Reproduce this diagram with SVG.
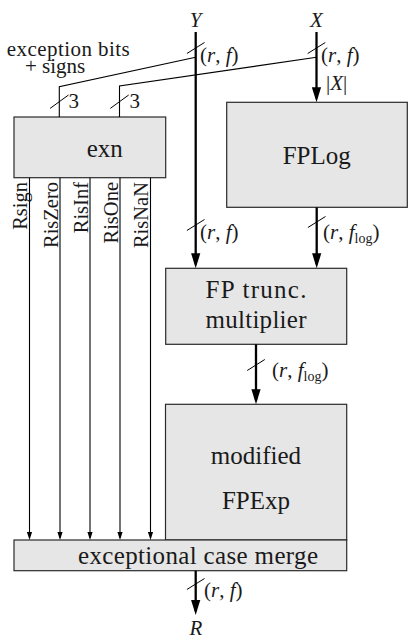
<svg xmlns="http://www.w3.org/2000/svg" width="409" height="641" viewBox="0 0 409 641">
<style>
text{font-family:"Liberation Serif","DejaVu Serif","Times New Roman",serif;fill:#1a1a1a}
.box{fill:#e6e6e6;stroke:#2a2a2a;stroke-width:1.2}
.bl{font-size:25px;text-anchor:middle}
.lb{font-size:21px}
.rl{font-size:20.5px;text-anchor:end}
.thick{stroke:#000;stroke-width:2.3;fill:none}
.thin{stroke:#000;stroke-width:1.1;fill:none}
.sl{stroke:#000;stroke-width:1}
.it{font-style:italic}
.sub{font-size:14px}
</style>
<defs>
<marker id="big" markerUnits="userSpaceOnUse" viewBox="0 -5 16 10" markerWidth="16" markerHeight="10" refX="11" refY="0" orient="auto">
<path d="M0,-4.6 L15,0 L0,4.6 z" fill="#000"/>
</marker>
<marker id="small" markerUnits="userSpaceOnUse" viewBox="0 -3 9 6" markerWidth="9" markerHeight="6" refX="6" refY="0" orient="auto">
<path d="M0,-2.6 L8,0 L0,2.6 z" fill="#000"/>
</marker>
</defs>

<g id="exn">
<rect class="box" x="14" y="117" width="151.7" height="60.7"/>
<text class="bl" x="104.7" y="156.7" font-family="Liberation Serif, serif">exn</text>
</g>
<g id="fplog">
<rect class="box" x="226.7" y="102.3" width="180.6" height="105"/>
<text class="bl" x="316.7" y="164" font-family="Liberation Serif, serif">FPLog</text>
</g>
<g id="mult">
<rect class="box" x="165.7" y="268.3" width="181" height="76"/>
<text class="bl" x="256" y="298.3" textLength="101" lengthAdjust="spacing" font-family="Liberation Serif, serif">FP trunc.</text>
<text class="bl" x="256" y="328.3" textLength="101" lengthAdjust="spacing" font-family="Liberation Serif, serif">multiplier</text>
</g>
<g id="fpexp">
<rect class="box" x="165.5" y="404.3" width="181.2" height="135.7"/>
<text class="bl" x="256" y="464.3" font-family="Liberation Serif, serif">modified</text>
<text class="bl" x="256" y="509.3" font-family="Liberation Serif, serif">FPExp</text>
</g>
<g id="merge">
<rect class="box" x="14" y="540" width="332.7" height="30.7"/>
<text class="bl" x="198" y="564.3" textLength="240" lengthAdjust="spacing" font-family="Liberation Serif, serif">exceptional case merge</text>
</g>

<g id="connectors">
<line class="thick" x1="316.5" y1="32" x2="316.5" y2="98.3" marker-end="url(#big)"/>
<line class="thick" x1="195.7" y1="32" x2="195.7" y2="264.3" marker-end="url(#big)"/>
<line class="thick" x1="316.7" y1="207.3" x2="316.7" y2="264.3" marker-end="url(#big)"/>
<line class="thick" x1="256" y1="344.3" x2="256" y2="400.3" marker-end="url(#big)"/>
<line class="thick" x1="195.7" y1="570.7" x2="195.7" y2="611" marker-end="url(#big)"/>
<polyline class="thin" points="195.7,57.3 59.3,86.7 59.3,117"/>
<polyline class="thin" points="316.5,57.3 119.5,86 119.5,117"/>
<line class="thin" x1="29.5" y1="177.7" x2="29.5" y2="538" marker-end="url(#small)"/>
<line class="thin" x1="60" y1="177.7" x2="60" y2="538" marker-end="url(#small)"/>
<line class="thin" x1="90" y1="177.7" x2="90" y2="538" marker-end="url(#small)"/>
<line class="thin" x1="120" y1="177.7" x2="120" y2="538" marker-end="url(#small)"/>
<line class="thin" x1="150.5" y1="177.7" x2="150.5" y2="538" marker-end="url(#small)"/>
<line class="sl" x1="186.9" y1="53.5" x2="204.5" y2="42.5"/>
<line class="sl" x1="307.7" y1="53.5" x2="325.3" y2="42.5"/>
<line class="sl" x1="186.9" y1="230.5" x2="204.5" y2="219.5"/>
<line class="sl" x1="307.9" y1="227.5" x2="325.5" y2="216.5"/>
<line class="sl" x1="247.2" y1="370.5" x2="264.8" y2="359.5"/>
<line class="sl" x1="186.9" y1="589.5" x2="204.5" y2="578.5"/>
<line class="sl" x1="50.1" y1="108.4" x2="68.5" y2="95"/>
<line class="sl" x1="110.3" y1="108.4" x2="128.7" y2="95"/>
</g>

<g id="labels" font-family="Liberation Serif, serif">
<text class="lb it" x="195.7" y="26.7" text-anchor="middle" font-size="22">Y</text>
<text class="lb it" x="316.5" y="26.7" text-anchor="middle" font-size="22">X</text>
<text class="lb" x="200" y="62">(<tspan class="it">r</tspan>, <tspan class="it">f</tspan>)</text>
<text class="lb" x="321" y="62">(<tspan class="it">r</tspan>, <tspan class="it">f</tspan>)</text>
<text class="lb" x="326" y="89.5">|<tspan class="it">X</tspan>|</text>
<text class="lb" x="200" y="239">(<tspan class="it">r</tspan>, <tspan class="it">f</tspan>)</text>
<text class="lb" x="323" y="239">(<tspan class="it">r</tspan>, <tspan class="it">f</tspan><tspan class="sub" dy="4">log</tspan><tspan dy="-4">)</tspan></text>
<text class="lb" x="272" y="377">(<tspan class="it">r</tspan>, <tspan class="it">f</tspan><tspan class="sub" dy="4">log</tspan><tspan dy="-4">)</tspan></text>
<text class="lb" x="204" y="597">(<tspan class="it">r</tspan>, <tspan class="it">f</tspan>)</text>
<text class="lb it" x="196" y="635" text-anchor="middle" font-size="21">R</text>
<text class="lb" x="6.7" y="56" font-size="21" textLength="123" lengthAdjust="spacing">exception bits</text>
<text class="lb" x="25" y="73" font-size="21">+ signs</text>
<text class="lb" x="68.5" y="108" font-size="22">3</text>
<text class="lb" x="129.5" y="108" font-size="22">3</text>
<text class="rl" transform="translate(27,182) rotate(-90)">Rsign</text>
<text class="rl" transform="translate(58,182) rotate(-90)">RisZero</text>
<text class="rl" transform="translate(87.5,182) rotate(-90)">RisInf</text>
<text class="rl" transform="translate(118,182) rotate(-90)">RisOne</text>
<text class="rl" transform="translate(148,182) rotate(-90)">RisNaN</text>
</g>
</svg>
